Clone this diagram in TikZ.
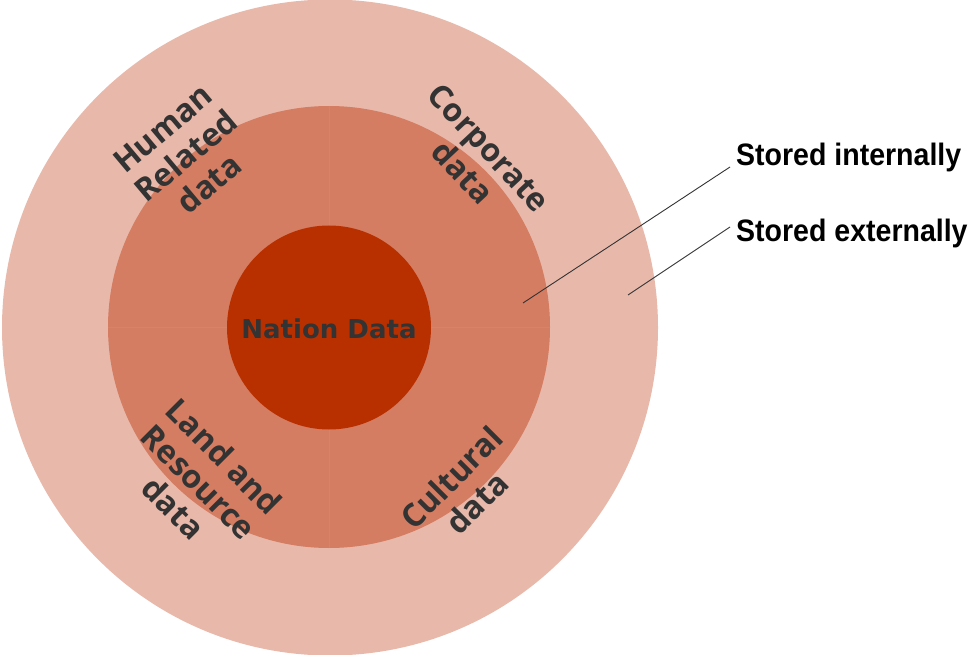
\documentclass[tikz,border=0pt]{standalone}
\usepackage{fontspec}
\usetikzlibrary{calc}
\newfontfamily\ringfont{Open Sans}
\newfontfamily\corefont{DejaVu Sans}
\newfontfamily\sidefont[FakeStretch=0.92]{Liberation Sans}
\definecolor{outerc}{RGB}{232,185,170}
\definecolor{midc}{RGB}{212,125,98}
\definecolor{innerc}{RGB}{185,48,0}
\definecolor{divc}{RGB}{215,131,104}
\definecolor{txtc}{RGB}{51,51,51}
\begin{document}
\begin{tikzpicture}[x=1pt,y=-1pt,
  ringlabel/.style={text=txtc,font=\ringfont\bfseries\fontsize{32}{36}\selectfont,align=center,inner sep=0pt},
  sidelabel/.style={text=black,font=\sidefont\bfseries\fontsize{31}{31}\selectfont,anchor=west,inner sep=0pt},
  leader/.style={draw=black!80,line width=0.9pt}]
\useasboundingbox (0,0) rectangle (969,655);
% circles
\fill[outerc] (330,327.5) circle (328);
\fill[midc] (329,327) circle (221);
\draw[divc,line width=0.8pt] (329,106) -- (329,548);
\draw[divc,line width=0.8pt] (108,327) -- (550,327);
\fill[innerc] (329,327.5) circle (102);
% labels
\node[text=txtc,font=\corefont\bfseries\fontsize{26}{26}\selectfont,inner sep=0pt] (core) at (329,329) {Nation Data};
\node[ringlabel,rotate=40] (human) at (186,156) {Human\\Related\\data};
\node[ringlabel,rotate=-47] (corp) at (476,160) {Corporate\\data};
\node[ringlabel,rotate=-45] (land) at (199,482) {Land and\\Resource\\data};
\node[ringlabel,rotate=45] (cult) at (464,490) {Cultural\\data};
% side labels
\node[sidelabel] (int) at (736,157) {Stored internally};
\node[sidelabel] (ext) at (736,233) {Stored externally};
\coordinate (pint) at (523,303);
\coordinate (pext) at (628,295);
\coordinate (eint) at ($(int.west)+(-6,10)$);
\coordinate (eext) at ($(ext.west)+(-6,-6)$);
\draw[leader] (pint) -- (eint);
\draw[leader] (pext) -- (eext);
\end{tikzpicture}
\end{document}
